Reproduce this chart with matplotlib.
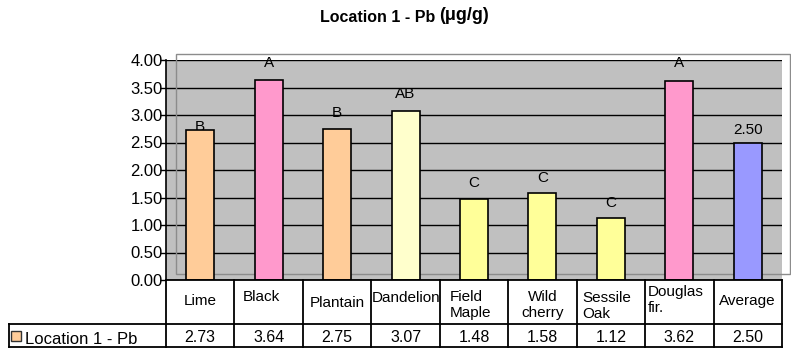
import matplotlib
matplotlib.use('Agg')
import matplotlib.pyplot as plt
from matplotlib.patches import Rectangle, Shadow
from matplotlib.ticker import FormatStrFormatter

plt.rcParams['font.family'] = ['Liberation Sans', 'DejaVu Sans']

# data
categories = ['Lime', 'Black', 'Plantain', 'Dandelion', 'Field\nMaple', 'Wild\ncherry',
              'Sessile\nOak', 'Douglas\nfir.', 'Average']
values = [2.73, 3.64, 2.75, 3.07, 1.48, 1.58, 1.12, 3.62, 2.50]
letters = ['B', 'A', 'B', 'AB', 'C', 'C', 'C', 'A', '2.50']
value_text = ['2.73', '3.64', '2.75', '3.07', '1.48', '1.58', '1.12', '3.62', '2.50']
series_name = 'Location 1 - Pb'
colors = ['#FFCC99', '#FF99CC', '#FFCC99', '#FFFFCC', '#FFFF99', '#FFFF99',
          '#FFFF99', '#FF99CC', '#9999FF']

W, H = 791, 349
fig = plt.figure(figsize=(W / 100, H / 100), dpi=100)
ax = fig.add_axes([166 / W, 1 - 280 / H, 616 / W, 220 / H])
ax.set_facecolor('#C0C0C0')

x = list(range(len(categories)))
bars = ax.bar(x, values, width=0.41, color=colors, edgecolor='black', linewidth=1.2, zorder=3)

# black shadow on the plantain bar
sh = Shadow(bars[2], 3, -2, facecolor='black', edgecolor='black', zorder=2.5)
ax.add_patch(sh)

# letter labels above the bars (the first one sits partly behind its bar)
offsets = [2, 12, 11.5, 12, 11, 11, 11, 13, 9]
for i, (v, t) in enumerate(zip(values, letters)):
    ax.annotate(t, (i, v), xytext=(0, offsets[i]), textcoords='offset points',
                ha='center', va='center', fontsize=11, zorder=2 if i == 0 else 4)

ax.set_xlim(-0.5, 8.5)
ax.set_ylim(0, 4)
ax.set_yticks([0, 0.5, 1, 1.5, 2, 2.5, 3, 3.5, 4])
ax.yaxis.set_major_formatter(FormatStrFormatter('%.2f'))
ax.tick_params(axis='y', direction='out', length=4.5, width=1, pad=-2, labelsize=12)
ax.set_xticks([])
ax.grid(axis='y', color='black', linewidth=1)
ax.set_axisbelow(True)
for s in ['top', 'right', 'bottom']:
    ax.spines[s].set_visible(False)
ax.spines['left'].set_linewidth(1.2)

# plot area frame (grey, offset)
frame = Rectangle((176 / W, 1 - 274 / H), 614 / W, 220 / H, transform=fig.transFigure,
                  fill=False, edgecolor='#8c8c8c', linewidth=1, zorder=0.8, clip_on=False)
ax.add_patch(frame)

# data table below the axes
tr = ax.get_xaxis_transform()
hdr = -44 / 220
bot = -67 / 220
left = (9 - 166) / 616
lk = dict(color='black', linewidth=1.3, clip_on=False, zorder=5)
ax.plot([-0.5, 8.5], [0, 0], transform=tr, **lk)
ax.plot([left, 1], [hdr, hdr], transform=ax.transAxes, **lk)
ax.plot([left, 1], [bot, bot], transform=ax.transAxes, **lk)
ax.plot([left, left], [hdr, bot], transform=ax.transAxes, **lk)
for i in range(len(categories) + 1):
    ax.plot([i - 0.5, i - 0.5], [0, bot], transform=tr, **lk)

# header texts: alignment and vertical spot per cell
h_align = ['center', 'center', 'center', 'left', 'left', 'center', 'left', 'left', 'center']
h_dx = [0, -0.1, 0, -0.49, -0.35, 0, -0.42, -0.46, 0]
h_y = [-21 / 220, -17 / 220, -23 / 220, -18 / 220, -25 / 220, -25 / 220, -26 / 220,
       -20 / 220, -21 / 220]
for i, c in enumerate(categories):
    ax.text(i + h_dx[i], h_y[i], c, transform=tr, ha=h_align[i], va='center',
            fontsize=11, linespacing=1.2, clip_on=False)
for i, t in enumerate(value_text):
    ax.text(i, -58 / 220, t, transform=tr, ha='center', va='center', fontsize=11.5,
            clip_on=False)

# row label with legend key
ax.plot([(16 - 166) / 616], [-56 / 220], marker='s', markersize=6.5, color='#FFCC99',
        markeredgecolor='#333333', markeredgewidth=1, transform=ax.transAxes, clip_on=False)
ax.text((25 - 166) / 616, -59 / 220, series_name, transform=ax.transAxes, ha='left',
        va='center', fontsize=12, clip_on=False)

# title
fig.text(435 / W, 1 - 17 / H, 'Location 1 - Pb', ha='right', va='center',
         fontsize=11.5, fontweight='bold')
fig.text(439 / W, 1 - 16 / H, '(μg/g)', ha='left', va='center',
         fontsize=13, fontweight='bold')

fig.savefig('out.png', dpi=100)
